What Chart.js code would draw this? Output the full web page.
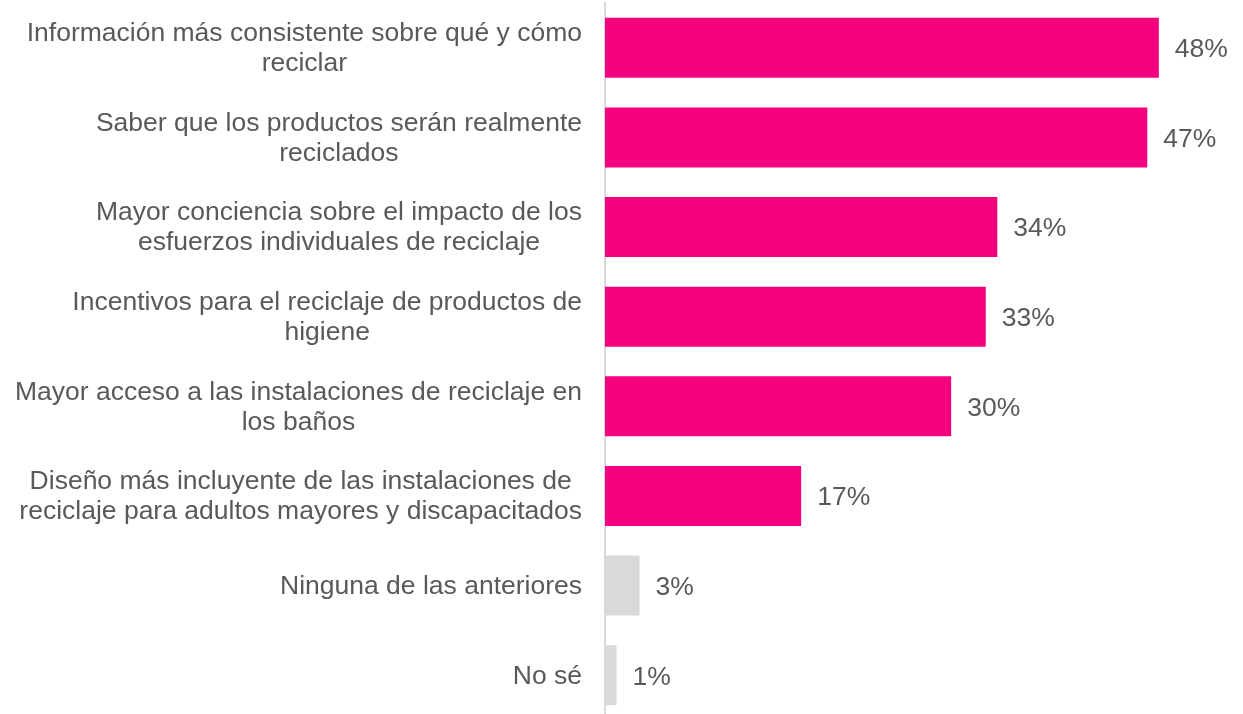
<!DOCTYPE html>
<html>
<head>
<meta charset="utf-8">
<script src="https://cdn.jsdelivr.net/npm/chart.js@4"></script>
<style>
  html, body { margin: 0; padding: 0; background: #fff; overflow: hidden; }
  #wrap { width: 1243px; height: 720px; }
</style>
</head>
<body>
<div id="wrap"><canvas id="recyclingChart"></canvas></div>
<script>
const categories = [
    ['Información más consistente sobre qué y cómo', 'reciclar'],
    ['Saber que los productos serán realmente', 'reciclados'],
    ['Mayor conciencia sobre el impacto de los', 'esfuerzos individuales de reciclaje'],
    ['Incentivos para el reciclaje de productos de', 'higiene'],
    ['Mayor acceso a las instalaciones de reciclaje en', 'los baños'],
    ['Diseño más incluyente de las instalaciones de', 'reciclaje para adultos mayores y discapacitados'],
    ['Ninguna de las anteriores'],
    ['No sé']
];
const percentages = [48, 47, 34, 33, 30, 17, 3, 1];
const barColors = ['#F5007F', '#F5007F', '#F5007F', '#F5007F', '#F5007F', '#F5007F', '#D9D9D9', '#D9D9D9'];

const textColor = '#595959';
const fontFamily = '"Liberation Sans", Arial, sans-serif';
const fontSize = 26.5;

// value labels at the end of each bar
const valueLabels = {
    id: 'valueLabels',
    afterDatasetsDraw(chart) {
        const ctx = chart.ctx;
        const meta = chart.getDatasetMeta(0);
        ctx.save();
        ctx.font = fontSize + 'px ' + fontFamily;
        ctx.fillStyle = textColor;
        ctx.textAlign = 'left';
        ctx.textBaseline = 'middle';
        meta.data.forEach((bar, i) => {
            ctx.fillText(percentages[i] + '%', bar.x + 16, bar.y + 2);
        });
        ctx.restore();
    }
};

// category labels: block right-aligned, lines centred within the block
const categoryLabels = {
    id: 'categoryLabels',
    afterDraw(chart) {
        const ctx = chart.ctx;
        const yScale = chart.scales.y;
        const lineH = 30;
        ctx.save();
        ctx.font = fontSize + 'px ' + fontFamily;
        ctx.fillStyle = textColor;
        ctx.textAlign = 'center';
        ctx.textBaseline = 'middle';
        categories.forEach((lines, i) => {
            const yc = yScale.getPixelForTick(i);
            const w = Math.max(...lines.map(l => ctx.measureText(l).width));
            const xc = 582 - w / 2;
            const top = yc - (lines.length - 1) * lineH / 2;
            lines.forEach((l, j) => ctx.fillText(l, xc, top + j * lineH + 1));
        });
        ctx.restore();
    }
};

document.addEventListener('DOMContentLoaded', function () {
    const ctx = document.getElementById('recyclingChart').getContext('2d');
    new Chart(ctx, {
        type: 'bar',
        data: {
            labels: categories,
            datasets: [{
                data: percentages,
                backgroundColor: barColors,
                borderWidth: 0,
                categoryPercentage: 1,
                barPercentage: 0.67
            }]
        },
        options: {
            indexAxis: 'y',
            responsive: true,
            maintainAspectRatio: false,
            animation: false,
            layout: { padding: { top: 3, right: 38, bottom: 0, left: 0 } },
            plugins: {
                legend: { display: false },
                tooltip: { enabled: false }
            },
            scales: {
                x: {
                    display: false,
                    min: 0,
                    max: 52
                },
                y: {
                    grid: { display: false, drawTicks: false },
                    border: { display: true, color: '#D9D9D9', width: 2 },
                    ticks: { display: false },
                    afterFit(scale) { scale.width = 605; }
                }
            }
        },
        plugins: [valueLabels, categoryLabels]
    });
});
</script>
</body>
</html>
